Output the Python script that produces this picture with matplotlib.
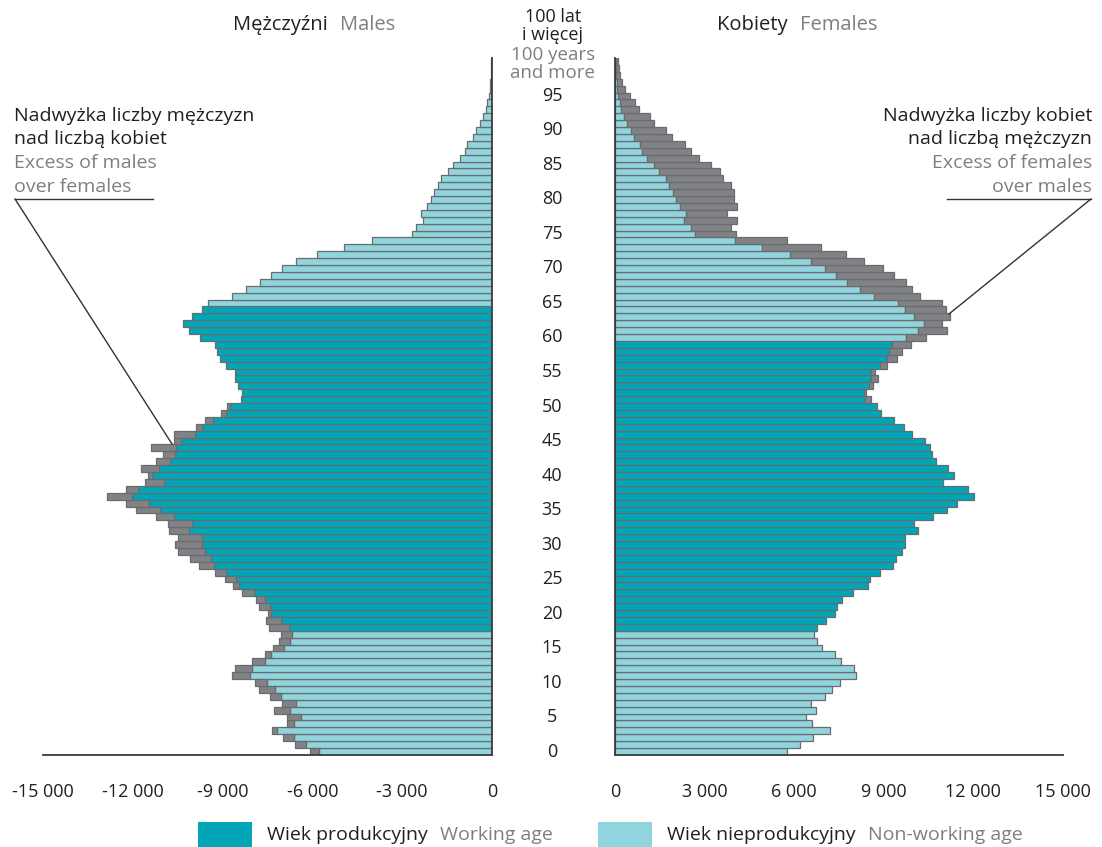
import matplotlib
matplotlib.use("Agg")
import matplotlib.pyplot as plt
from matplotlib.transforms import blended_transform_factory
from matplotlib.lines import Line2D
from matplotlib.patches import Rectangle
import numpy as np

plt.rcParams['font.family'] = ['Open Sans', 'DejaVu Sans']

# age 0 .. 100 (100 = 100 years and more)
ages = np.arange(0, 101)

males = [6080, 6590, 6970, 7350, 6840, 6840, 7270, 7000, 7430, 7770,
         7910, 8700, 8580, 8020, 7590, 7330, 7110, 7040, 7440, 7540,
         7500, 7770, 7880, 8360, 8650, 8920, 9260, 9790, 10090, 10500,
         10590, 10500, 10790, 10820, 11220, 11900, 12230, 12860, 12240, 11590,
         11490, 11710, 11220, 10990, 11390, 10620, 10630, 9880, 9580, 9060,
         8840, 8380, 8350, 8500, 8570, 8580, 8880, 9100, 9190, 9260,
         9750, 10130, 10330, 10020, 9700, 9480, 8680, 8210, 7760, 7390,
         7030, 6560, 5850, 4930, 4010, 2670, 2540, 2320, 2380, 2170,
         2042, 1950, 1820, 1700, 1460, 1290, 1070, 890, 830, 620,
         545, 400, 290, 210, 155, 100, 70, 55, 45, 30,
         20]

females = [5770, 6200, 6620, 7190, 6610, 6390, 6740, 6560, 7040, 7250,
           7520, 8080, 8010, 7580, 7380, 6940, 6750, 6670, 6770, 7050,
           7370, 7420, 7590, 7960, 8460, 8540, 8870, 9300, 9400, 9600,
           9700, 9700, 10130, 10010, 10640, 11100, 11460, 12020, 11830, 10970,
           11350, 11140, 10750, 10600, 10550, 10380, 9930, 9690, 9330, 8890,
           8760, 8560, 8390, 8630, 8790, 8700, 9100, 9430, 9610, 9910,
           10400, 11130, 10960, 11200, 11070, 10950, 10210, 9950, 9740, 9330,
           8960, 8350, 7720, 6890, 5750, 4040, 3870, 4070, 3760, 4070,
           4000, 4000, 3870, 3600, 3520, 3210, 2810, 2530, 2360, 1910,
           1700, 1320, 1160, 815, 670, 515, 335, 245, 180, 145,
           112]

working_m = (18, 64)
working_f = (18, 59)

x_ticks = [-15000, -12000, -9000, -6000, -3000, 0]
x_ticks_f = [0, 3000, 6000, 9000, 12000, 15000]

DARK = '#00a6b8'
LIGHT = '#90d5de'
GREY = '#818286'
EDGE = '#6a6b6e'
TXT = '#231f20'
TXT2 = '#7f7f7f'

males = np.array(males)
females = np.array(females)
common = np.minimum(males, females)

W, H = 1102, 847
fig = plt.figure(figsize=(W / 100, H / 100), dpi=100)


def box(x0, y0, x1, y1):
    return [x0 / W, 1 - y1 / H, (x1 - x0) / W, (y1 - y0) / H]


ax_m = fig.add_axes(box(43, 58, 492, 755))
ax_f = fig.add_axes(box(615, 58, 1063, 755))


def fmt(v):
    s = f"{abs(v):,}".replace(',', ' ')
    return ('-' + s) if v < 0 else s


def draw(ax, vals, work, sign):
    cols = [DARK if work[0] <= a <= work[1] else LIGHT for a in ages]
    ax.barh(ages, sign * common, height=1, color=cols, edgecolor=EDGE, linewidth=0.9)
    extra = vals - common
    m = extra > 0
    ax.barh(ages[m], sign * extra[m], left=sign * common[m], height=1,
            color=GREY, edgecolor=EDGE, linewidth=0.9)
    ax.set_ylim(-0.5, 100.5)
    ax.set_yticks([])
    for s in ['top', 'left', 'right', 'bottom']:
        ax.spines[s].set_visible(False)
    ax.tick_params(axis='x', length=0, pad=20, labelsize=13, labelcolor=TXT)
    ax.patch.set_alpha(0)


draw(ax_m, males, working_m, -1)
ax_m.set_xlim(-15000, 0)
ax_m.set_xticks(x_ticks)
ax_m.set_xticklabels([fmt(v) for v in x_ticks])
ax_m.spines['right'].set_visible(True)
ax_m.spines['bottom'].set_visible(True)

draw(ax_f, females, working_f, 1)
ax_f.set_xlim(0, 15000)
ax_f.set_xticks(x_ticks_f)
ax_f.set_xticklabels([fmt(v) for v in x_ticks_f])
ax_f.spines['left'].set_visible(True)
ax_f.spines['bottom'].set_visible(True)

for ax in (ax_m, ax_f):
    for s in ax.spines.values():
        s.set_color('#3b3b3b')
        s.set_linewidth(1.3)

# age labels in the middle
tr = blended_transform_factory(fig.transFigure, ax_f.transData)
for a in range(0, 100, 5):
    fig.text(552 / W, a, str(a), transform=tr, ha='center', va='center',
             fontsize=13, color=TXT)


def px(x, y):
    return x / W, 1 - y / H


fig.text(*px(553, 17), '100 lat', ha='center', va='center', fontsize=13, color=TXT)
fig.text(*px(553, 35), 'i więcej', ha='center', va='center', fontsize=13, color=TXT)
fig.text(*px(553, 55), '100 years', ha='center', va='center', fontsize=13.5, color=TXT2)
fig.text(*px(553, 73), 'and more', ha='center', va='center', fontsize=13.5, color=TXT2)


def pair(x, y, t1, t2, size=13, gap=6):
    a = fig.text(*px(x, y), t1, ha='left', va='center', fontsize=size, color=TXT)
    fig.canvas.draw()
    bb = a.get_window_extent()
    fig.text((bb.x1 + gap) / W, 1 - y / H, t2, ha='left', va='center',
             fontsize=size, color=TXT2)


pair(233, 25, 'Mężczyźni', 'Males', size=14.5, gap=12)
pair(717, 25, 'Kobiety', 'Females', size=14.5, gap=12)

# annotations
left_lines = [('Nadwyżka liczby mężczyzn', TXT), ('nad liczbą kobiet', TXT),
              ('Excess of males', TXT2), ('over females', TXT2)]
right_lines = [('Nadwyżka liczby kobiet', TXT), ('nad liczbą mężczyzn', TXT),
               ('Excess of females', TXT2), ('over males', TXT2)]
ys = [116, 139, 163, 187]
for (t, c), y in zip(left_lines, ys):
    fig.text(*px(14, y), t, ha='left', va='center', fontsize=14, color=c)
for (t, c), y in zip(right_lines, ys):
    fig.text(*px(1092, y), t, ha='right', va='center', fontsize=14, color=c)


def seg(x0, y0, x1, y1):
    fig.add_artist(Line2D([x0 / W, x1 / W], [1 - y0 / H, 1 - y1 / H],
                          transform=fig.transFigure, color='#333333', lw=1,
                          zorder=10))


seg(15, 199, 153, 199)
seg(15, 199, 172, 444)
seg(947, 199, 1091, 199)
seg(1091, 199, 949, 314)

# legend
fig.add_artist(Rectangle((198 / W, 0), 54 / W, 25 / H, transform=fig.transFigure,
                         facecolor=DARK, edgecolor='none'))
fig.add_artist(Rectangle((598 / W, 0), 54 / W, 25 / H, transform=fig.transFigure,
                         facecolor=LIGHT, edgecolor='none'))
pair(267, 835, 'Wiek produkcyjny', 'Working age', size=14, gap=12)
pair(667, 835, 'Wiek nieprodukcyjny', 'Non-working age', size=14, gap=12)

fig.savefig('out.png', dpi=100)
